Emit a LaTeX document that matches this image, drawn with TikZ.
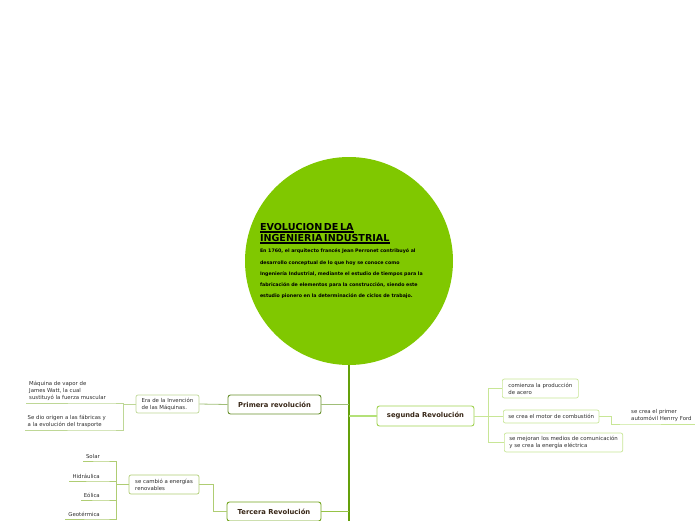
\documentclass[tikz,border=0pt]{standalone}
\usepackage{fontspec}
\setmainfont{DejaVu Sans}
\usetikzlibrary{positioning,calc}
\definecolor{rootgreen}{RGB}{128,200,0}
\definecolor{trunkgreen}{RGB}{100,160,10}
\definecolor{labelbrown}{RGB}{55,38,22}
\definecolor{textgray}{RGB}{45,45,45}
\definecolor{primborder}{RGB}{105,145,45}
\definecolor{primline}{RGB}{160,190,120}
\definecolor{eraline}{RGB}{190,215,150}
\definecolor{segborder}{RGB}{160,210,80}
\definecolor{segline}{RGB}{180,225,120}
\definecolor{segsub}{RGB}{200,230,150}
\definecolor{tercborder}{RGB}{115,165,30}
\definecolor{tercline}{RGB}{150,195,70}
\definecolor{renovline}{RGB}{175,205,115}
% thick title underline
\newcommand{\titleul}[1]{\leavevmode\setbox0\hbox{#1}\rlap{\rule[-2.2pt]{\wd0}{1.5pt}}\box0}

\begin{document}
\begin{tikzpicture}[x=1pt,y=-1pt,
  topic/.style={draw,rounded corners=2.5pt,line width=0.9pt,fill=white,text=labelbrown,
    font=\fontsize{6.8}{8}\selectfont\bfseries,minimum height=19pt},
  sub/.style={draw,rounded corners=2pt,line width=0.7pt,fill=white,text=textgray,
    font=\fontsize{5.4}{7}\selectfont,align=left,inner xsep=5pt,inner ysep=2.5pt},
  leaf/.style={text=textgray,font=\fontsize{5.4}{7}\selectfont,align=left,inner xsep=3pt,inner ysep=2pt},
  link/.style={line width=0.8pt}]
  \useasboundingbox (0,0) rectangle (696,520);

  % centre
  \node[circle,fill=rootgreen,minimum size=208pt,inner sep=0pt,text width=178pt,align=left,
    font=\fontsize{4.75}{11.2}\selectfont\bfseries] (root) at (349,261)
    {\titleul{\fontsize{9.6}{11}\selectfont EVOLUCION DE LA}\\
     \titleul{\fontsize{9.6}{11}\selectfont INGENIERIA INDUSTRIAL}\\
     En 1760, el arquitecto francés Jean Perronet contribuyó al\\
     desarrollo conceptual de lo que hoy se conoce como\\
     Ingeniería Industrial, mediante el estudio de tiempos para la\\
     fabricación de elementos para la construcción, siendo este\\
     estudio pionero en la determinación de ciclos de trabajo.};
  \coordinate (trunkend) at (349,522);
  \draw[trunkgreen,line width=1.6pt] (root.south) -- (trunkend);

  % primera
  \node[topic,draw=primborder,minimum width=93pt] (prim) at (274.5,404.5) {Primera revolución};
  \draw[primline,line width=1.2pt] (prim.east) -- (prim.east -| root.south);
  \node[sub,draw=eraline,minimum width=63pt,minimum height=18pt] (era) at (167.5,404)
    {Era de la Invención\\de las Máquinas.};
  \draw[primline,link] (era.east) -- (prim.west);
  \node[leaf,anchor=south east] (vapor) at (109,403)
    {Máquina de vapor de\\James Watt, la cual\\sustituyó la fuerza muscular};
  \node[leaf,anchor=south east] (origen) at (109,430)
    {Se dio origen a las fábricas y\\a la evolución del trasporte};
  \draw[eraline,link] (era.west) -- ++(-12,0) coordinate (ej);
  \draw[eraline,link] (ej) |- (vapor.south east) -- (vapor.south west);
  \draw[eraline,link] (ej) |- (origen.south east) -- (origen.south west);

  % segunda
  \node[topic,draw=segborder,minimum width=97pt,minimum height=20pt] (seg) at (425.5,416) {segunda Revolución};
  \draw[segline,line width=1.2pt] (seg.west -| root.south) -- (seg.west);
  \node[sub,draw=segsub,minimum width=76pt,minimum height=19pt,anchor=west] (acero) at (502,388.5)
    {comienza la producción\\de acero};
  \node[sub,draw=segsub,minimum height=13pt,anchor=west] (motor) at (503,416.5)
    {se crea el motor de combustión};
  \node[sub,draw=segsub,minimum height=19pt,anchor=west] (comun) at (504,442.5)
    {se mejoran los medios de comunicación\\y se crea la energía eléctrica};
  \draw[segsub,link] (seg.east) -- ++(14,0) coordinate (sj);
  \foreach \n in {acero,motor,comun}
    \draw[segsub,link] (sj) |- (\n.west);
  \node[leaf,anchor=south west] (ford) at (628,424) {se crea el primer\\automóvil Henrry Ford};
  \draw[segsub,link] (motor.east) -- ++(12,0) |- (ford.south west) -- (ford.south east);

  % tercera
  \node[topic,draw=tercborder,minimum width=94pt] (terc) at (274,511.5) {Tercera Revolución};
  \draw[tercline,line width=1.2pt] (terc.east) -- (terc.east -| root.south);
  \node[sub,draw=renovline,minimum width=70pt,minimum height=19pt] (renov) at (164,484.5)
    {se cambió a energías\\renovables};
  \draw[renovline,link] (renov.east) -- ++(14,0) |- (terc.west);
  \node[leaf,anchor=south east] (solar) at (103,461) {Solar};
  \node[leaf,anchor=south east] (hidra) at (103,481) {Hidráulica};
  \node[leaf,anchor=south east] (eolica) at (103,500) {Eólica};
  \node[leaf,anchor=south east] (geo) at (103,519) {Geotérmica};
  \draw[renovline,link] (renov.west) -- ++(-12,0) coordinate (rj);
  \foreach \n in {solar,hidra,eolica,geo}
    \draw[renovline,link] (rj) |- (\n.south east) -- (\n.south west);
\end{tikzpicture}
\end{document}
